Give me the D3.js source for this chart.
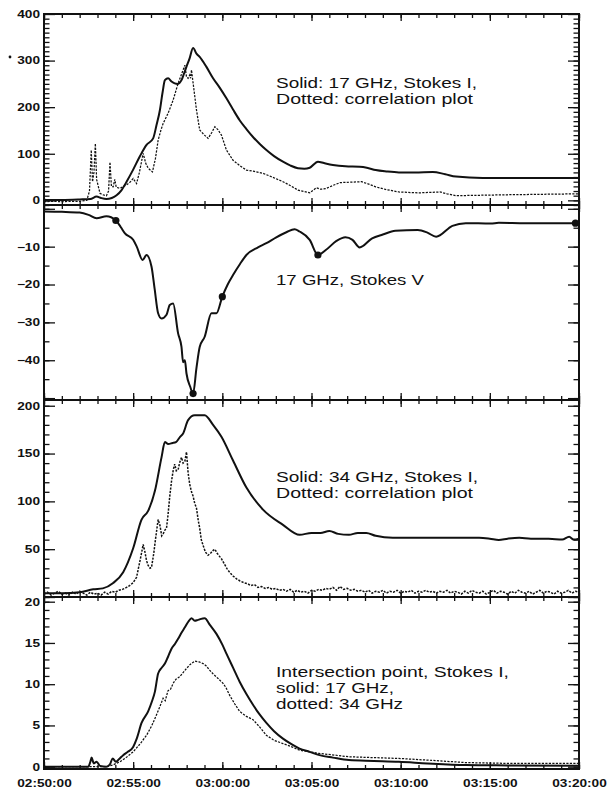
<!DOCTYPE html>
<html>
<head>
<meta charset="utf-8">
<script src="https://cdn.jsdelivr.net/npm/d3@7"></script>
<style>
  body { margin: 0; background: #fff; }
  svg { display: block; font-family: 'Liberation Sans', Arial, sans-serif; }
  .line-solid { fill: none; stroke: #111; stroke-width: 2; stroke-linejoin: round; }
  .line-dotted { fill: none; stroke: #111; stroke-width: 1.25; stroke-dasharray: 2.2,1.3; }
  .line-dotted.noisy { stroke-width: 1.5; }
  .tick line { stroke: #111; stroke-width: 1.3; }
  .frame { fill: none; stroke: #111; stroke-width: 2; }
  .tick text { font-size: 10.5px; font-weight: bold; fill: #111; }
  .note { font-size: 14px; fill: #111; }
</style>
</head>
<body>
<svg width="609" height="794"></svg>
<script>
// times are minutes after 02:50:00 UT

// panel 1: 17 GHz Stokes I (solid) and correlation plot (dotted)
const i17 = [[0,1],[1,1],[2,2],[2.6,3],[2.95,8],[3.2,5],[3.5,3],[3.8,5],[4.07,11],[4.35,22],
  [4.63,40],[5,66],[5.37,94],[5.75,119],[6.12,133],[6.3,160],[6.5,194],[6.65,232],[6.78,258],
  [6.96,262],[7.15,255],[7.33,251],[7.5,250],[7.71,258],[7.85,272],[7.99,287],[8.15,303],
  [8.36,327],[8.55,315],[8.73,308],[9.1,287],[9.48,262],[9.85,242],[10.23,219],[10.6,195],
  [10.97,172],[11.35,153],[11.72,136],[12.1,121],[12.47,108],[12.9,95],[13.4,83],[13.8,75],
  [14.24,69],[14.6,68],[14.9,70],[15.36,83],[15.7,80],[16.2,76],[16.9,73],[17.7,72],[18.1,70],
  [18.6,65],[19.2,62],[19.9,60],[20.8,60],[21.8,61],[22.5,56],[23.1,51],[24.6,48],[27,48],[30,48]];

const corr17 = [[0,-3],[0.5,-2],[1,-3],[1.5,-2],[2,-2],[2.4,0],[2.55,20],[2.65,108],[2.72,40],
  [2.8,60],[2.88,122],[2.95,45],[3.14,15],[3.3,12],[3.5,10],[3.62,20],[3.7,82],[3.78,30],
  [3.88,29],[3.97,45],[4.05,28],[4.26,26],[4.45,30],[4.63,33],[4.85,40],[5,47],[5.19,36],
  [5.35,60],[5.56,101],[5.7,80],[5.84,69],[6.08,61],[6.25,90],[6.4,129],[6.55,150],[6.68,165],
  [6.96,187],[7.24,215],[7.52,251],[7.8,280],[7.9,290],[7.99,265],[8.08,262],[8.17,269],
  [8.22,262],[8.27,280],[8.4,240],[8.55,194],[8.73,151],[9,140],[9.2,133],[9.4,145],[9.58,158],
  [9.75,152],[9.95,140],[10.23,108],[10.6,86],[11,74],[11.35,65],[11.8,62],[12.28,58],[12.8,50],
  [13.4,40],[13.8,32],[14.24,22],[14.6,19],[14.9,16],[15.27,27],[15.5,24],[15.8,25],[16.2,32],
  [16.6,38],[17.2,39],[17.8,40],[18.2,35],[18.6,29],[19.2,23],[19.9,18],[21,16],[21.6,17],
  [22.2,18],[22.6,14],[23.1,10],[24.6,11],[26,12],[28,13],[30,14]];

// panel 2: 17 GHz Stokes V
const v17 = [[0,-0.7],[1,-0.8],[2,-1],[2.5,-1.6],[2.95,-2.5],[3.5,-2],[4.03,-3.1],[4.3,-4.8],
  [4.54,-6.5],[5,-8.2],[5.2,-10],[5.53,-13.5],[5.75,-12.2],[6.03,-15.3],[6.2,-21],[6.4,-27.6],
  [6.59,-29],[6.87,-28],[7.05,-25.4],[7.24,-25],[7.52,-32.9],[7.71,-36.5],[7.8,-40.5],[7.9,-40],
  [7.99,-43.5],[8.2,-47],[8.36,-48.8],[8.55,-42],[8.73,-36.5],[9.01,-33.8],[9.39,-27.6],
  [9.67,-27.6],[10,-23.2],[10.3,-20],[10.6,-17.5],[11,-14.5],[11.35,-12.2],[12,-10.2],
  [12.47,-9.1],[13,-7.6],[13.59,-6.2],[14.05,-5.4],[14.33,-6],[14.9,-8.2],[15.36,-12.2],
  [15.8,-10.9],[16.4,-8.5],[16.9,-7.5],[17.3,-8.2],[17.7,-10.2],[18.4,-7.8],[19,-6.8],
  [19.7,-5.8],[20.96,-5.6],[21.5,-6.3],[21.99,-7.4],[22.9,-4.5],[23.65,-3.8],[25.05,-3.9],
  [25.5,-3.7],[27,-3.8],[28.5,-3.8],[29.8,-3.8]];
const v17Marks = [[4.03,-3.1],[8.36,-48.8],[10,-23.2],[15.36,-12.2],[29.8,-3.8]];

// panel 3: 34 GHz Stokes I (solid) and correlation plot (dotted)
const i34 = [[0,4],[1,4],[2,5],[2.76,8],[3.3,9],[3.88,14.6],[4.44,26],[5,51],[5.47,81],[5.84,90],
  [6.22,111],[6.59,146],[6.78,162],[6.96,160],[7.2,161],[7.4,162],[7.63,167.5],[7.8,171],
  [8.08,185],[8.45,190],[9.01,190],[9.48,180],[9.95,167.5],[10.6,142.7],[11.35,114.4],
  [12.28,91.4],[13.4,75.5],[14.33,65],[15,67],[15.5,67],[16,69],[16.5,66],[17.1,65],[17.6,67],
  [18.07,67],[18.6,64],[19.56,62],[20.5,62],[21.8,62],[23,62],[24.4,62],[25,61],[25.5,59.6],
  [26,61],[26.65,62],[27.3,61],[28.3,61],[29.06,60],[29.45,63],[29.7,60],[30,61]];

const corr34 = [[0,3],[0.2,5],[0.4,2],[0.6,4],[0.8,6],[1,3],[1.2,4],[1.4,2],[1.6,5],[1.8,3],
  [2,6],[2.2,4],[2.4,2],[2.6,5],[2.8,3],[3,4],[3.2,2],[3.4,5],[3.6,3],[3.8,6],[4,5],[4.2,7],
  [4.4,8],[4.63,10],[4.8,12],[5,15],[5.19,20.6],[5.35,35],[5.46,45],[5.56,55],[5.65,48],
  [5.75,38],[5.84,33],[5.95,30],[6.03,31],[6.15,45],[6.25,60],[6.4,81],[6.5,75],[6.6,64],
  [6.68,66],[6.78,70],[6.87,72],[6.95,85],[7.05,105],[7.15,121],[7.25,133],[7.33,139],
  [7.42,132],[7.52,133],[7.6,140],[7.71,146],[7.8,140],[7.9,142],[7.99,151.6],[8.08,130],
  [8.17,118],[8.27,110],[8.36,105.5],[8.45,98],[8.55,93],[8.65,80],[8.73,72],[8.82,60],
  [8.92,54],[9.05,47],[9.2,43.6],[9.35,46],[9.5,49],[9.58,50],[9.7,46],[9.82,43],[9.95,40],
  [10.1,35],[10.25,30],[10.4,26],[10.6,22],[10.8,19],[10.97,17],[11.2,15],[11.4,14],[11.6,12],
  [11.8,13],[12,10],[12.2,11],[12.4,9],[12.6,10],[12.8,8],[13,9],[13.2,7],[13.4,8],[13.6,6],
  [13.8,8],[14,5],[14.2,7],[14.4,5],[14.6,6],[14.8,4],[15,7],[15.2,6],[15.4,8],[15.6,7],
  [15.8,9],[16,8],[16.2,10],[16.4,7],[16.6,11],[16.8,8],[17,9],[17.2,7],[17.4,8],[17.6,6],
  [17.8,7],[18,5],[18.2,7],[18.4,4],[18.6,6],[18.8,5],[19,7],[19.2,4],[19.4,6],[19.6,5],
  [19.8,7],[20,4],[20.2,6],[20.4,5],[20.6,7],[20.8,4],[21,6],[21.2,5],[21.4,7],[21.6,5],
  [21.8,6],[22,4],[22.2,6],[22.4,5],[22.6,7],[22.8,4],[23,6],[23.2,5],[23.4,3],[23.6,6],
  [23.8,4],[24,7],[24.2,5],[24.4,4],[24.6,6],[24.8,3],[25,5],[25.2,7],[25.4,4],[25.6,6],
  [25.8,5],[26,3],[26.2,6],[26.4,4],[26.6,7],[26.8,5],[27,4],[27.2,6],[27.4,3],[27.6,5],
  [27.8,7],[28,4],[28.2,6],[28.4,5],[28.6,3],[28.8,6],[29,4],[29.2,5],[29.4,7],[29.6,4],
  [29.8,6],[30,5]];

// panel 4: intersection point, 17 GHz (solid) and 34 GHz (dotted)
const x17 = [[0,0],[1,0],[2,0],[2.48,0],[2.6,0.6],[2.67,1.1],[2.75,0.6],[2.8,0.4],[2.95,0.6],
  [3.14,0.1],[3.5,0],[3.7,0.3],[3.85,1],[4.03,0.6],[4.2,0.9],[4.44,1.4],[4.7,1.8],[5,2.4],
  [5.2,3.4],[5.47,5.3],[5.84,6.7],[6.05,7.9],[6.22,9.1],[6.4,11.3],[6.6,12],[6.78,12.5],
  [6.95,13.3],[7.15,14.3],[7.35,14.9],[7.52,15.5],[7.7,16.2],[7.9,16.9],[8.1,17.6],[8.27,18],
  [8.45,17.7],[8.64,17.8],[9.01,18],[9.3,17.2],[9.67,16.1],[10,14.8],[10.23,13.7],[10.6,12],
  [10.97,10.3],[11.35,8.8],[11.72,7.5],[12.1,6.3],[12.47,5.3],[12.9,4.3],[13.4,3.4],[13.9,2.7],
  [14.33,2.2],[14.9,1.8],[15.45,1.4],[16.2,1.1],[17.1,0.8],[18.5,0.7],[19.9,0.6],[21.5,0.4],
  [23.65,0.2],[26,0.15],[30,0.1]];

const x34 = [[0,0],[1,0],[2,0],[3,0],[3.5,0],[3.85,0.2],[4.26,0.6],[4.6,1.1],[5,1.8],[5.4,2.8],
  [5.75,3.8],[6.05,5],[6.31,6.3],[6.5,7.3],[6.68,8.3],[6.8,8],[6.95,9.2],[7.1,9.4],[7.24,10.1],
  [7.4,10.6],[7.61,10.9],[7.8,11.4],[7.99,11.9],[8.2,12.4],[8.45,12.8],[8.7,12.7],[8.92,12.5],
  [9.1,12.2],[9.29,11.7],[9.5,11.2],[9.76,10.7],[10.04,10.1],[10.2,9.6],[10.4,8.7],[10.7,7.6],
  [10.97,6.7],[11.35,6.1],[11.72,5.7],[12.1,4.8],[12.47,3.8],[12.9,3.2],[13.4,2.8],[13.9,2.4],
  [14.33,2],[14.9,1.8],[15.45,1.6],[16.3,1.4],[17.1,1.2],[18.5,1.1],[19.9,1],[21.5,0.8],
  [23.65,0.5],[26,0.4],[28,0.4],[30,0.4]];

// axis ticks
const yMajor1 = [0, 100, 200, 300, 400];
const yLabels1 = [0, 100, 200, 300, 400];
const yMajor2 = [0, -10, -20, -30, -40, -50];
const yLabels2 = [-10, -20, -30, -40];
const yMajor3 = [0, 50, 100, 150, 200];
const yLabels3 = [50, 100, 150, 200];
const yMajor4 = [0, 5, 10, 15, 20];
const yLabels4 = [0, 5, 10, 15, 20];
const xMajorMinutes = [0, 5, 10, 15, 20, 25, 30];

const notes1 = ['Solid: 17 GHz, Stokes I,', 'Dotted: correlation plot'];
const notes2 = ['17 GHz, Stokes V'];
const notes3 = ['Solid: 34 GHz, Stokes I,', 'Dotted: correlation plot'];
const notes4 = ['Intersection point, Stokes I,', 'solid: 17 GHz,', 'dotted: 34 GHz'];

const svg = d3.select('svg');
svg.append('rect').attr('width', 609).attr('height', 794).attr('fill', '#fff');

const t0 = Date.UTC(1990, 0, 1, 2, 50, 0);
const toDate = m => new Date(t0 + m * 60000);

const left = 44, right = 579;
const xScale = d3.scaleUtc()
  .domain([toDate(0), toDate(30)])
  .range([left, right]);

const panels = [
  { top: 14, bottom: 205, domain: [-10, 400], major: yMajor1, labels: yLabels1, minorStep: 10,
    solid: i17, dotted: corr17, notes: notes1, noteWidths: [201, 197], noteY: 88 },
  { top: 205, bottom: 400, domain: [-50.5, 1], major: yMajor2, labels: yLabels2, minorStep: 5,
    solid: v17, marks: v17Marks, notes: notes2, noteWidths: [148], noteY: 285 },
  { top: 400, bottom: 597, domain: [0, 206], major: yMajor3, labels: yLabels3, minorStep: 10,
    solid: i34, dotted: corr34, noisy: true, notes: notes3, noteWidths: [202, 197], noteY: 482 },
  { top: 597, bottom: 769, domain: [-0.28, 20.57], major: yMajor4, labels: yLabels4, minorStep: 1,
    solid: x17, dotted: x34, notes: notes4, noteWidths: [233, 118, 127], noteY: 677 }
];

const xMajor = xMajorMinutes.map(toDate);
const xMinor = d3.range(0, 31).map(toDate);
const scaleX = 1.3;

panels.forEach((p, i) => {
  const yScale = d3.scaleLinear().domain(p.domain).range([p.bottom, p.top]);
  const isLast = i === panels.length - 1;
  const g = svg.append('g');

  const clipId = 'clip' + i;
  svg.append('clipPath').attr('id', clipId)
    .append('rect')
      .attr('x', left).attr('y', p.top)
      .attr('width', right - left).attr('height', p.bottom - p.top);

  const minorVals = d3.range(Math.ceil(p.domain[0] / p.minorStep) * p.minorStep, p.domain[1], p.minorStep);

  // left axis
  const fmt = d3.format('d');
  g.append('g')
      .attr('transform', `translate(${left},0)`)
      .call(d3.axisLeft(yScale).tickValues(minorVals).tickSize(-5.5).tickFormat(''))
      .call(a => a.select('.domain').remove());
  const yAxisG = g.append('g')
      .attr('transform', `translate(${left},0)`)
      .call(d3.axisLeft(yScale).tickValues(p.major).tickSize(-11).tickPadding(4)
        .tickFormat(d => p.labels.includes(d) ? fmt(d) : ''));
  yAxisG.select('.domain').remove();
  yAxisG.selectAll('text')
      .attr('x', -4 / scaleX)
      .attr('transform', `scale(${scaleX},1)`);

  // right axis
  g.append('g')
      .attr('transform', `translate(${right},0)`)
      .call(d3.axisRight(yScale).tickValues(minorVals).tickSize(-5.5).tickFormat(''))
      .call(a => a.select('.domain').remove());
  g.append('g')
      .attr('transform', `translate(${right},0)`)
      .call(d3.axisRight(yScale).tickValues(p.major).tickSize(-11).tickFormat(''))
      .call(a => a.select('.domain').remove());

  // top and bottom time axes
  [[p.top, d3.axisTop], [p.bottom, d3.axisBottom]].forEach(([yy, axisFn]) => {
    g.append('g')
        .attr('transform', `translate(0,${yy})`)
        .call(axisFn(xScale).tickValues(xMinor).tickSize(-4).tickFormat(''))
        .call(a => a.select('.domain').remove());
    const showLabels = isLast && axisFn === d3.axisBottom;
    const xAxisG = g.append('g')
        .attr('transform', `translate(0,${yy})`)
        .call(axisFn(xScale).tickValues(xMajor).tickSize(-7).tickPadding(11)
          .tickFormat(showLabels ? d3.utcFormat('%H:%M:%S') : ''));
    xAxisG.select('.domain').remove();
    xAxisG.selectAll('text').attr('transform', `scale(${scaleX},1)`);
  });

  g.append('rect')
      .attr('class', 'frame')
      .attr('x', left).attr('y', p.top)
      .attr('width', right - left).attr('height', p.bottom - p.top);

  const lineGenerator = d3.line()
    .x(d => xScale(toDate(d[0])))
    .y(d => yScale(d[1]));
  const smoothLine = d3.line()
    .x(d => xScale(toDate(d[0])))
    .y(d => yScale(d[1]))
    .curve(d3.curveMonotoneX);

  const plot = g.append('g').attr('clip-path', `url(#${clipId})`);
  if (p.dotted) {
    plot.append('path')
        .attr('class', p.noisy ? 'line-dotted noisy' : 'line-dotted')
        .attr('d', lineGenerator(p.dotted));
  }
  plot.append('path')
      .attr('class', 'line-solid')
      .attr('d', smoothLine(p.solid));

  if (p.marks) {
    g.selectAll('.mark').data(p.marks)
      .enter().append('circle')
        .attr('class', 'mark')
        .attr('cx', d => xScale(toDate(d[0])))
        .attr('cy', d => yScale(d[1]))
        .attr('r', 3.6)
        .attr('fill', '#111');
  }

  p.notes.forEach((txt, j) => {
    g.append('text')
        .attr('class', 'note')
        .attr('x', 276)
        .attr('y', p.noteY + j * 16)
        .attr('textLength', p.noteWidths[j])
        .attr('lengthAdjust', 'spacingAndGlyphs')
        .text(txt);
  });
});

// stray mark next to the 300 label
svg.append('circle').attr('cx', 10).attr('cy', 57).attr('r', 1.4).attr('fill', '#111');
</script>
</body>
</html>
